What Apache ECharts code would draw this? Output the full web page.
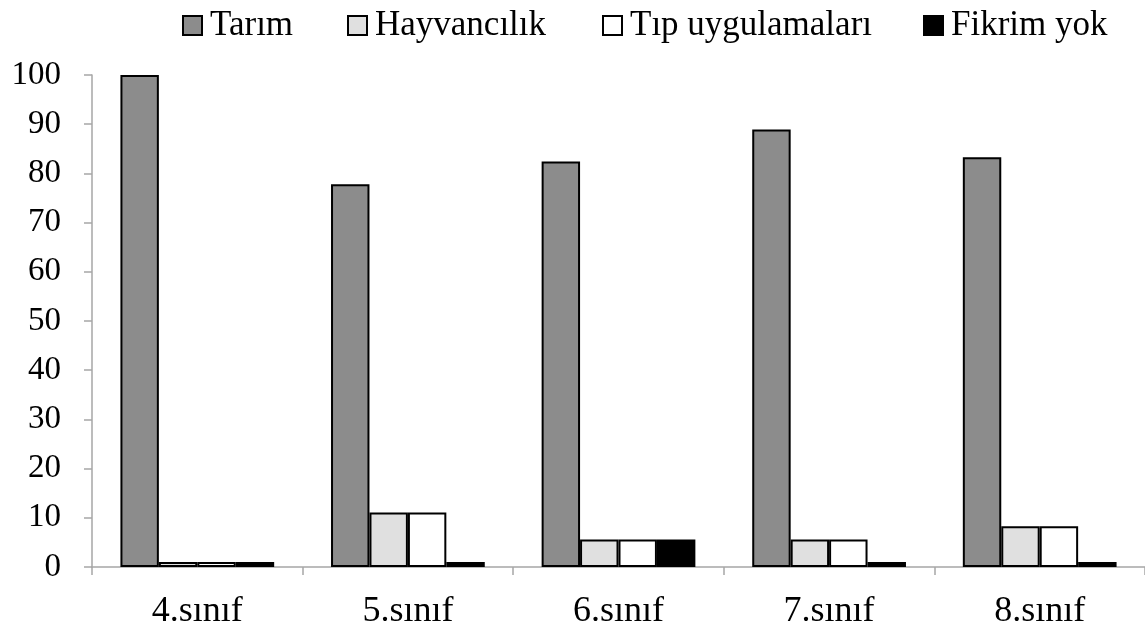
<!DOCTYPE html>
<html>
<head>
<meta charset="utf-8">
<script src="https://cdn.jsdelivr.net/npm/echarts@6/dist/echarts.min.js"></script>
<style>
  html, body { margin: 0; padding: 0; background: #ffffff; }
  #chart { width: 1145px; height: 632px; }
</style>
</head>
<body>
<div id="chart"></div>
<script>
// Grades on the category axis
const categories = ['4.sınıf', '5.sınıf', '6.sınıf', '7.sınıf', '8.sınıf'];

// Percent of answers per grade
const tarim = [100, 77.8, 82.4, 88.9, 83.3];
const hayvancilik = [1, 11.1, 5.6, 5.6, 8.3];
const tipUygulamalari = [1, 11.1, 5.6, 5.6, 8.3];
const fikrimYok = [1, 1, 5.6, 1, 1];

const seriesNames = ['Tarım', 'Hayvancılık', 'Tıp uygulamaları', 'Fikrim yok'];
const seriesData = [tarim, hayvancilik, tipUygulamalari, fikrimYok];
const seriesColors = ['#8c8c8c', '#e0e0e0', '#ffffff', '#000000'];

// Value axis tick range
const yMin = 0;
const yMax = 100;
const yStep = 10;

const FONT = '"Liberation Serif", "Times New Roman", serif';
const AXIS_GRAY = '#a6a6a6';

// One legend block per series so each entry sits at its own x offset
const legendLefts = [177, 342, 597, 918];
const legends = seriesNames.map((name, i) => ({
  top: 3,
  left: legendLefts[i],
  itemWidth: 19,
  itemHeight: 19,
  icon: 'rect',
  textStyle: { fontFamily: FONT, fontSize: 35, color: '#000000', padding: [0, 0, 0, 3] },
  data: [name]
}));

const chart = echarts.init(document.getElementById('chart'), null, { renderer: 'canvas' });

chart.setOption({
  backgroundColor: '#ffffff',
  animation: false,
  textStyle: { fontFamily: FONT, color: '#000000' },
  legend: legends,
  grid: {
    left: 92,
    right: 0,
    top: 75,
    bottom: 65,
    containLabel: false
  },
  xAxis: {
    type: 'category',
    data: categories,
    axisLine: { lineStyle: { color: AXIS_GRAY, width: 1.5 } },
    axisTick: { show: true, length: 8, lineStyle: { color: AXIS_GRAY, width: 1.5 }, alignWithLabel: false },
    axisLabel: { fontFamily: FONT, fontSize: 36, color: '#000000', margin: 27 },
    splitLine: { show: false }
  },
  yAxis: {
    type: 'value',
    min: yMin,
    max: yMax,
    interval: yStep,
    axisLine: { show: true, lineStyle: { color: AXIS_GRAY, width: 1.5 } },
    axisTick: { show: true, length: 8, lineStyle: { color: AXIS_GRAY, width: 1.5 } },
    axisLabel: { fontFamily: FONT, fontSize: 33, color: '#000000', margin: 31 },
    splitLine: { show: false }
  },
  series: seriesNames.map((name, i) => ({
    name: name,
    type: 'bar',
    data: seriesData[i],
    barGap: '0%',
    barCategoryGap: '27%',
    itemStyle: {
      color: seriesColors[i],
      borderColor: '#000000',
      borderWidth: 2
    }
  }))
});
</script>
</body>
</html>
